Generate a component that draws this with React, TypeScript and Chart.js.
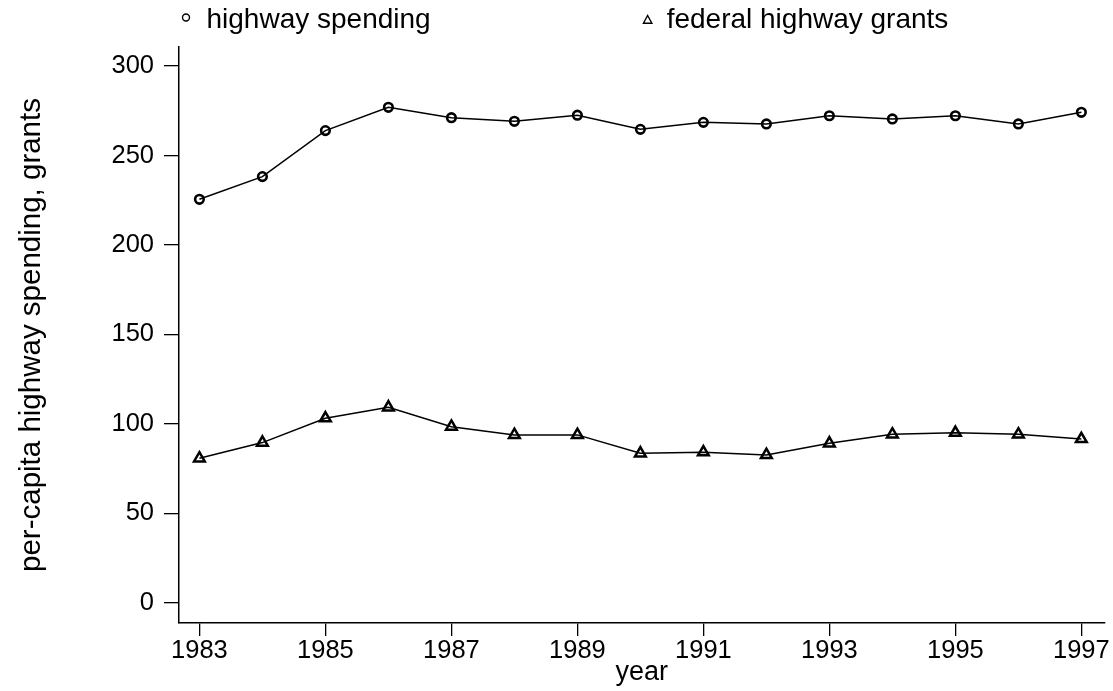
import React, { useEffect, useRef } from "react";
import { Chart, registerables } from "chart.js";

Chart.register(...registerables);

const years = [1983, 1984, 1985, 1986, 1987, 1988, 1989, 1990, 1991, 1992, 1993, 1994, 1995, 1996, 1997];
const highwaySpending = [225.5, 238.2, 263.9, 276.9, 271.1, 269.1, 272.5, 264.6, 268.5, 267.6, 272.2, 270.4, 272.2, 267.6, 274.1];
const federalGrants = [80.8, 89.6, 103.2, 109.3, 98.5, 93.9, 93.9, 83.6, 84.2, 82.7, 89.2, 94.2, 95.1, 94.2, 91.6];
const xTickValues = [1983, 1985, 1987, 1989, 1991, 1993, 1995, 1997];
const yTickValues = [0, 50, 100, 150, 200, 250, 300];
const seriesLabels = ["highway spending", "federal highway grants"];
const xTitle = "year";
const yTitle = "per-capita highway spending, grants";

const FONT = '"Liberation Sans", Arial, sans-serif';

const stataLegend = {
  id: "stataLegend",
  afterDraw(chart: any) {
    const { ctx, chartArea } = chart;
    const cols = [chartArea.left, (chartArea.left + chartArea.right) / 2];
    chart.data.datasets.forEach((ds: any, i: number) => {
      const x0 = cols[i];
      ctx.save();
      ctx.strokeStyle = "#000";
      ctx.fillStyle = "#000";
      ctx.lineWidth = 1.4;
      ctx.beginPath();
      if (ds.pointStyle === "triangle") {
        const cx = x0 + 6;
        const cy = 20;
        ctx.moveTo(cx, cy - 4.5);
        ctx.lineTo(cx + 4.2, cy + 3.2);
        ctx.lineTo(cx - 4.2, cy + 3.2);
        ctx.closePath();
      } else {
        ctx.arc(x0 + 7, 17.5, 3.5, 0, Math.PI * 2);
      }
      ctx.stroke();
      ctx.font = `28px ${FONT}`;
      ctx.textBaseline = "alphabetic";
      ctx.textAlign = "left";
      ctx.fillText(ds.label, x0 + (i === 0 ? 27.5 : 25), 28.3);
      ctx.restore();
    });
  },
};

export default function App() {
  const canvasRef = useRef<HTMLCanvasElement | null>(null);

  useEffect(() => {
    const canvas = canvasRef.current;
    if (!canvas) return;
    const chart = new Chart(canvas, {
      type: "line",
      data: {
        datasets: [
          {
            label: seriesLabels[0],
            data: years.map((yr, i) => ({ x: yr, y: highwaySpending[i] })),
            borderColor: "#000",
            borderWidth: 1.5,
            pointStyle: "circle",
            pointRadius: 4.3,
            pointBorderWidth: 2.6,
            pointBorderColor: "#000",
            pointBackgroundColor: "rgba(0,0,0,0)",
            tension: 0,
          },
          {
            label: seriesLabels[1],
            data: years.map((yr, i) => ({ x: yr, y: federalGrants[i] })),
            borderColor: "#000",
            borderWidth: 1.5,
            pointStyle: "triangle",
            pointRadius: 6.2,
            pointBorderWidth: 2.5,
            pointBorderColor: "#000",
            pointBackgroundColor: "rgba(0,0,0,0)",
            tension: 0,
          },
        ],
      },
      options: {
        animation: false,
        responsive: false,
        maintainAspectRatio: false,
        layout: { padding: { top: 47, right: 6, bottom: 0, left: 0 } },
        plugins: {
          legend: { display: false },
          tooltip: { enabled: false },
          title: { display: false },
        },
        scales: {
          x: {
            type: "linear",
            min: 1982.676,
            max: 1997.364,
            afterBuildTicks: (s: any) => {
              s.ticks = xTickValues.map((v) => ({ value: v }));
            },
            afterFit: (s: any) => {
              s.height = 68;
            },
            border: { display: true, color: "#000", width: 1.5 },
            grid: {
              drawOnChartArea: false,
              drawTicks: true,
              tickLength: 13,
              color: "#000",
              lineWidth: 1.3,
            },
            ticks: {
              color: "#000",
              font: { family: FONT, size: 25.5, lineHeight: 1 },
              padding: 2,
              maxRotation: 0,
              autoSkip: false,
              callback: (v: any) => String(v),
            },
            title: {
              display: true,
              text: xTitle,
              color: "#000",
              font: { family: FONT, size: 27, lineHeight: 1 },
              padding: { top: 0, bottom: 5.2 },
            },
          },
          y: {
            type: "linear",
            min: -11.2,
            max: 310.6,
            afterBuildTicks: (s: any) => {
              s.ticks = yTickValues.map((v) => ({ value: v }));
            },
            afterFit: (s: any) => {
              s.width = 179;
            },
            border: { display: true, color: "#000", width: 1.5 },
            grid: {
              drawOnChartArea: false,
              drawTicks: true,
              tickLength: 15,
              color: "#000",
              lineWidth: 1.3,
            },
            ticks: {
              color: "#000",
              font: { family: FONT, size: 25.5, lineHeight: 1 },
              padding: 10,
              autoSkip: false,
              callback: (v: any) => String(v),
            },
            title: {
              display: true,
              text: yTitle,
              color: "#000",
              font: { family: FONT, size: 29.5, lineHeight: 1 },
              padding: { top: 17, bottom: 0 },
            },
          },
        },
      },
      plugins: [stataLegend],
    } as any);
    return () => chart.destroy();
  }, []);

  return (
    <div style={{ position: "fixed", left: 0, top: 0, width: 1113, height: 691, background: "#fff" }}>
      <canvas ref={canvasRef} width={1113} height={691} style={{ display: "block" }} />
    </div>
  );
}
